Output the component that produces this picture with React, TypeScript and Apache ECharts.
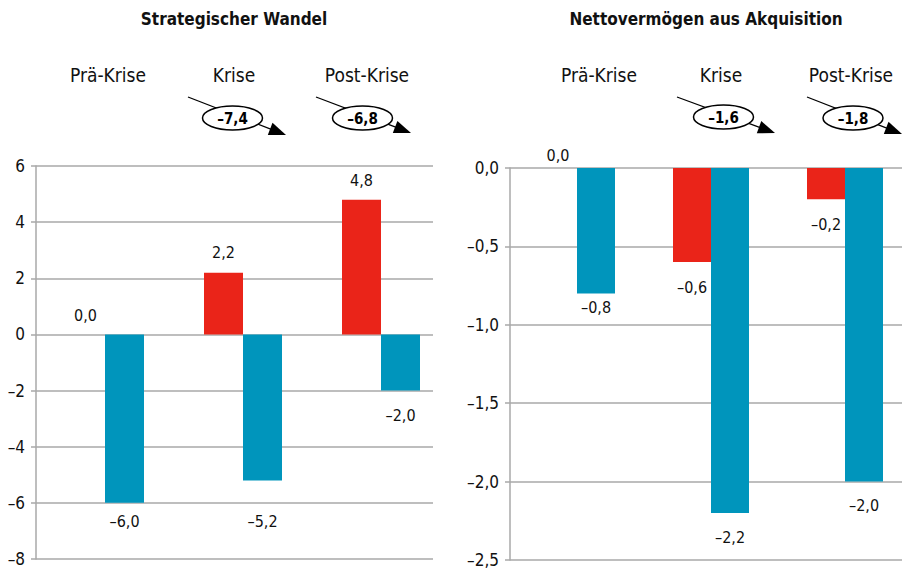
import React, { useEffect, useRef } from "react";
import * as echarts from "echarts";

const categories = ["Prä-Krise", "Krise", "Post-Krise"];
const leftTitle = "Strategischer Wandel";
const rightTitle = "Nettovermögen aus Akquisition";
const leftRed = [0.0, 2.2, 4.8];
const leftBlue = [-6.0, -5.2, -2.0];
const leftTotals = [-7.4, -6.8];
const rightRed = [0.0, -0.6, -0.2];
const rightBlue = [-0.8, -2.2, -2.0];
const rightTotals = [-1.6, -1.8];

// label distances (layout only)
const leftRedGap = [11, 12, 11];
const leftBlueGap = [11, 33, 17];
const rightRedGap = [5, 17, 17];
const rightBlueGap = [6, 17, 16];

const RED = "#EA2419";
const BLUE = "#0095BC";
const GRID = "#a8a8a8";
const FONT = "'Liberation Sans Narrow', 'DejaVu Sans Condensed', 'Roboto Condensed', Roboto, sans-serif";

const fmt1 = (v: number) => v.toFixed(1).replace(".", ",").replace("-", "\u2013");
const fmt0 = (v: number) => String(v).replace("-", "\u2013");

function barData(arr: number[], gaps: number[]) {
  return arr.map((v, i) => ({
    value: v,
    label: { position: v >= 0 ? "top" : "bottom", distance: gaps[i] },
  }));
}

function annotation(x1: number, y1: number, x2: number, y2: number, cx: number, cy: number, text: string) {
  const dx = x2 - x1;
  const dy = y2 - y1;
  const len = Math.sqrt(dx * dx + dy * dy);
  const ux = dx / len;
  const uy = dy / len;
  const nx = -uy;
  const ny = ux;
  const L = 17;
  const W = 6.5;
  const bx = x2 - ux * L;
  const by = y2 - uy * L;
  return [
    {
      type: "line",
      z: 10,
      shape: { x1, y1, x2: bx + ux * 2, y2: by + uy * 2 },
      style: { stroke: "#000", lineWidth: 1.3 },
    },
    {
      type: "polygon",
      z: 10,
      shape: {
        points: [
          [x2, y2],
          [bx + nx * W, by + ny * W],
          [bx - nx * W, by - ny * W],
        ],
      },
      style: { fill: "#000" },
    },
    {
      type: "ellipse",
      z: 11,
      shape: { cx, cy, rx: 30, ry: 12 },
      style: { fill: "#fff", stroke: "#000", lineWidth: 1.5 },
    },
    {
      type: "text",
      z: 12,
      x: cx,
      y: cy + 1,
      style: {
        text,
        fill: "#000",
        font: `bold 15px ${FONT}`,
        align: "center",
        verticalAlign: "middle",
      },
    },
  ];
}

function textEl(x: number, y: number, text: string, size: number, bold: boolean) {
  return {
    type: "text",
    x,
    y,
    style: {
      text,
      fill: "#111",
      font: `${bold ? "bold " : ""}${size}px ${FONT}`,
      align: "center",
      verticalAlign: "middle",
    },
  };
}

export default function App() {
  const ref = useRef<HTMLDivElement>(null);
  useEffect(() => {
    if (!ref.current) return;
    const chart = echarts.init(ref.current, undefined, { renderer: "svg" });
    const valueLabel = {
      show: true,
      distance: 10,
      color: "#111",
      fontSize: 16,
      fontFamily: FONT,
      formatter: (p: any) => fmt1(p.value),
    };
    const yAxisVisible = (gridIndex: number, min: number, max: number, interval: number, f: (v: number) => string) => ({
      type: "value",
      gridIndex,
      min,
      max,
      interval,
      axisLine: { show: true, lineStyle: { color: GRID, width: 1.5 } },
      axisTick: { show: true, length: 5, lineStyle: { color: GRID, width: 1.5 } },
      splitLine: { show: true, lineStyle: { color: GRID, width: 1.5 } },
      axisLabel: { margin: 11, color: "#111", fontSize: 17, fontFamily: FONT, formatter: f },
    });
    const yAxisHidden = (gridIndex: number, min: number, max: number, interval: number) => ({
      type: "value",
      gridIndex,
      min,
      max,
      interval,
      show: false,
    });
    const xAxisHidden = (gridIndex: number) => ({
      type: "category",
      gridIndex,
      data: categories,
      show: false,
    });
    chart.setOption({
      animation: false,
      backgroundColor: "#fff",
      grid: [
        { left: 36, top: 166, width: 397, height: 393 },
        { left: 36, top: 166, width: 414, height: 393 },
        { left: 510, top: 168, width: 392, height: 392 },
        { left: 510, top: 168, width: 402, height: 392 },
      ],
      xAxis: [xAxisHidden(0), xAxisHidden(1), xAxisHidden(2), xAxisHidden(3)],
      yAxis: [
        yAxisVisible(0, -8, 6, 2, fmt0),
        yAxisHidden(1, -8, 6, 2),
        yAxisVisible(2, -2.5, 0, 0.5, fmt1),
        yAxisHidden(3, -2.5, 0, 0.5),
      ],
      series: [
        {
          type: "bar",
          xAxisIndex: 1,
          yAxisIndex: 1,
          data: barData(leftRed, leftRedGap),
          barWidth: 39,
          barGap: "0%",
          itemStyle: { color: RED },
          label: valueLabel,
        },
        {
          type: "bar",
          xAxisIndex: 1,
          yAxisIndex: 1,
          data: barData(leftBlue, leftBlueGap),
          barWidth: 39,
          barGap: "0%",
          itemStyle: { color: BLUE },
          label: valueLabel,
        },
        {
          type: "bar",
          xAxisIndex: 3,
          yAxisIndex: 3,
          data: barData(rightRed, rightRedGap),
          barWidth: 38,
          barGap: "0%",
          itemStyle: { color: RED },
          label: valueLabel,
        },
        {
          type: "bar",
          xAxisIndex: 3,
          yAxisIndex: 3,
          data: barData(rightBlue, rightBlueGap),
          barWidth: 38,
          barGap: "0%",
          itemStyle: { color: BLUE },
          label: valueLabel,
        },
      ],
      graphic: [
        textEl(234, 19, leftTitle, 17, true),
        textEl(706, 19, rightTitle, 17, true),
        textEl(108, 75, categories[0], 19, false),
        textEl(234, 75, categories[1], 19, false),
        textEl(367, 75, categories[2], 19, false),
        textEl(599, 75, categories[0], 19, false),
        textEl(721, 75, categories[1], 19, false),
        textEl(851, 75, categories[2], 19, false),
        ...annotation(188, 97, 286, 135, 232.5, 118, fmt1(leftTotals[0])),
        ...annotation(316, 97, 411, 133, 362.5, 118, fmt1(leftTotals[1])),
        ...annotation(677, 97, 775, 133, 723.5, 117, fmt1(rightTotals[0])),
        ...annotation(807, 97, 902, 134, 853, 118, fmt1(rightTotals[1])),
      ],
    });
    return () => chart.dispose();
  }, []);
  return (
    <div
      style={{ position: "absolute", left: 0, top: 0, width: 902, height: 571, overflow: "hidden" }}
    >
      <div ref={ref} style={{ width: 930, height: 571 }} />
    </div>
  );
}
